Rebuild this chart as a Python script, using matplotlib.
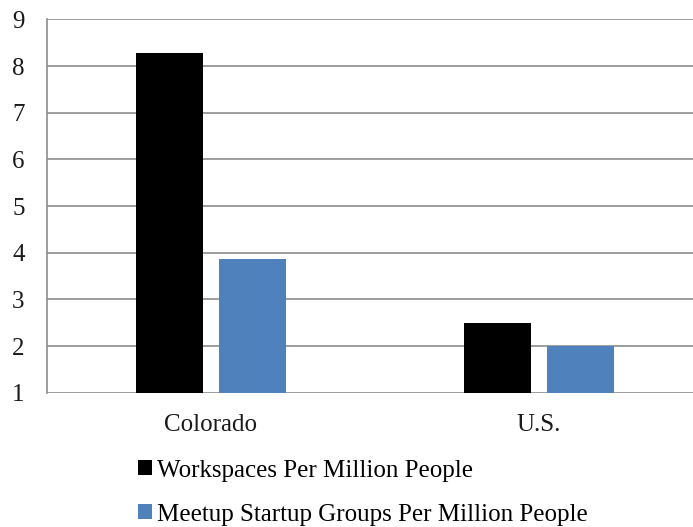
import numpy as np
import matplotlib.pyplot as plt

plt.rcParams['font.family'] = ['Liberation Serif', 'DejaVu Serif']

# regions and the two measures per million residents
regions = ["Colorado", "U.S."]
workspaces = [8.29, 2.50]
meetup_groups = [3.86, 2.00]
series_labels = ["Workspaces Per Million People", "Meetup Startup Groups Per Million People"]

fig = plt.figure(figsize=(6.93, 5.27), dpi=100)
ax = fig.add_axes([0.0675, 0.2548, 0.9466, 0.7082])

x = np.arange(len(regions))
w = 0.204
ax.bar(x - 0.127, np.array(workspaces) - 1, w, bottom=1, color='black', label=series_labels[0], zorder=3)
ax.bar(x + 0.127, np.array(meetup_groups) - 1, w, bottom=1, color='#4f81bd', label=series_labels[1], zorder=3)

ax.set_xlim(-0.5, 1.5)
ax.set_ylim(1, 9)
ax.set_yticks(range(1, 10))
ax.set_xticks(x)
ax.set_xticklabels(regions)
ax.grid(axis='y', color='#8c8c8c', linewidth=1.2, zorder=0)
ax.tick_params(length=0, labelsize=18, colors='#1a1a1a')
ax.tick_params(axis='x', pad=15)
ax.tick_params(axis='y', pad=16)
for s in ['top', 'right', 'bottom']:
    ax.spines[s].set_visible(False)
ax.spines['left'].set_color('#8c8c8c')
ax.spines['left'].set_linewidth(1.2)

fig.legend(loc='upper left', bbox_to_anchor=(0.199, 0.128), frameon=False,
           fontsize=18, handlelength=0.56, handleheight=0.56, handletextpad=0.2,
           labelspacing=0.88, borderpad=0, borderaxespad=0)

fig.savefig("out.png", dpi=100)
